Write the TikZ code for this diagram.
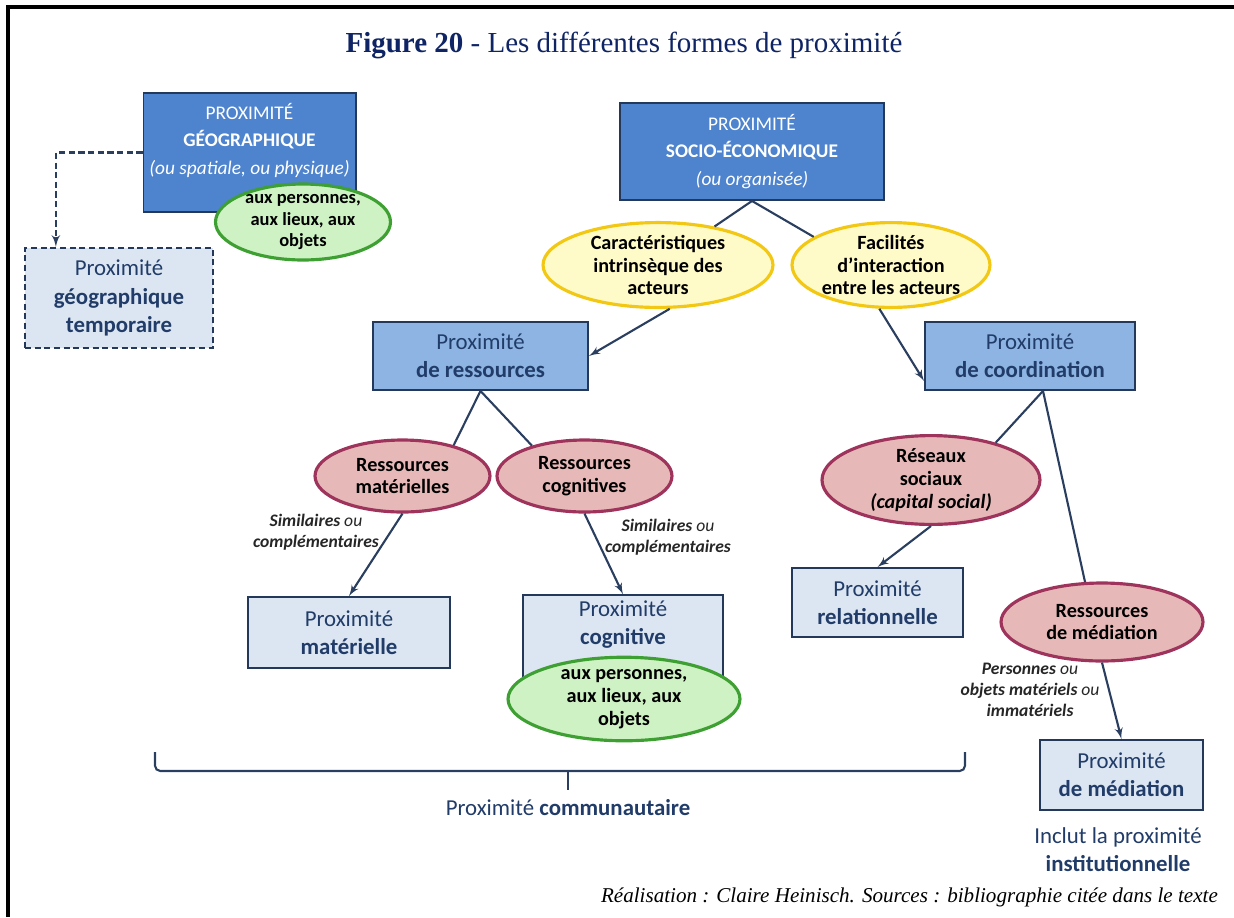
\documentclass[tikz,border=0pt]{standalone}
\usepackage{fontspec}
\setmainfont{Carlito}
\newfontfamily\ttlfont{Liberation Serif}
\usetikzlibrary{shapes,arrows}

\definecolor{darkblue}{RGB}{78,131,206}
\definecolor{midblue}{RGB}{141,180,226}
\definecolor{paleblue}{RGB}{220,230,242}
\definecolor{boxline}{RGB}{36,56,90}
\definecolor{boxtext}{RGB}{33,60,104}
\definecolor{linkcol}{RGB}{42,62,95}
\definecolor{rosefill}{RGB}{230,185,184}
\definecolor{roseline}{RGB}{158,52,92}
\definecolor{goldfill}{RGB}{255,251,200}
\definecolor{goldline}{RGB}{242,200,20}
\definecolor{leaffill}{RGB}{206,242,196}
\definecolor{leafline}{RGB}{62,160,50}
\definecolor{titlecol}{RGB}{14,36,100}

\tikzstyle{topbox} = [draw=boxline, line width=1.1pt, fill=darkblue, text=white, align=center, font=\fontsize{11}{15.5}\selectfont]
\tikzstyle{midbox} = [draw=boxline, line width=1.1pt, fill=midblue, text=boxtext, align=center, font=\fontsize{13}{16}\selectfont]
\tikzstyle{leafbox} = [midbox, fill=paleblue]
\tikzstyle{dashbox} = [leafbox, line width=1.3pt, dash pattern=on 3.5pt off 2pt]
\tikzstyle{oval} = [ellipse, line width=1.8pt, inner sep=0pt, align=center, text=black, font=\bfseries\fontsize{11.5}{13}\selectfont]
\tikzstyle{yoval} = [oval, draw=goldline, fill=goldfill]
\tikzstyle{poval} = [oval, draw=roseline, fill=rosefill]
\tikzstyle{goval} = [oval, draw=leafline, fill=leaffill]
\tikzstyle{note} = [align=center, text=black!85, font=\itshape\fontsize{10}{12}\selectfont]
\tikzset{
  line/.style ={draw=linkcol, line width=1.2pt, -latex'},
  plain/.style={draw=linkcol, line width=1.2pt}
}

\begin{document}
\begin{tikzpicture}[x=0.02cm, y=-0.02cm]
  \useasboundingbox (0,0) rectangle (1234,917);
  \draw[line width=2pt] (8,917) -- (8,7) -- (1234,7);

  \node[text=titlecol, font=\ttlfont\fontsize{16.5}{20}\selectfont] (title) at (624,45) {\textbf{Figure 20} - Les différentes formes de proximité};

  % geographic side
  \node[topbox, minimum width=4.18cm, minimum height=2.38cm] (geo) at (249.5,152.5) {PROXIMITÉ\\\textbf{GÉOGRAPHIQUE}\\\textit{(ou spatiale, ou physique)}\\\mbox{}};
  \node[goval, inner sep=-3pt, minimum width=3.5cm, minimum height=1.52cm, font=\bfseries\fontsize{10.5}{12.5}\selectfont] (geoobj) at (303,222) {aux personnes,\\aux lieux, aux\\objets};
  \node[dashbox, minimum width=3.76cm, minimum height=2cm] (tempo) at (119,298) {Proximité\\\textbf{géographique}\\\textbf{temporaire}};

  % socio-economic side
  \node[topbox, minimum width=5.28cm, minimum height=1.94cm] (socio) at (752,151.5) {PROXIMITÉ\\\textbf{SOCIO-ÉCONOMIQUE}\\\textit{(ou organisée)}};
  \node[yoval, minimum width=4.6cm, minimum height=1.48cm] (intr) at (658,265) {Caractéristiques\\intrinsèque des\\acteurs};
  \node[yoval, minimum width=3.96cm, minimum height=1.48cm] (inter) at (891,265) {Facilités\\d’interaction\\entre les acteurs};

  \node[midbox, minimum width=4.3cm, minimum height=1.36cm] (ress) at (480.5,356) {Proximité\\\textbf{de ressources}};
  \node[midbox, minimum width=4.2cm, minimum height=1.36cm] (coord) at (1030,356) {Proximité\\\textbf{de coordination}};

  \node[poval, minimum width=3.5cm, minimum height=1.44cm] (rmat) at (402.5,476) {Ressources\\matérielles};
  \node[poval, minimum width=3.5cm, minimum height=1.44cm] (rcog) at (584.5,476) {Ressources\\cognitives};
  \node[poval, minimum width=4.36cm, minimum height=1.72cm] (reseau) at (931,480) {Réseaux\\sociaux\\\textit{(capital social)}};
  \node[poval, minimum width=4.04cm, minimum height=1.56cm] (rmed) at (1102,622) {Ressources\\de médiation};

  \node[note] (simmat) at (316,532) {\textbf{Similaires} ou\\\textbf{complémentaires}};
  \node[note] (simcog) at (668,537) {\textbf{Similaires} ou\\\textbf{complémentaires}};
  \node[note] (pers) at (1030,690) {\textbf{Personnes} ou\\\textbf{objets matériels} ou\\\textbf{immatériels}};

  \node[leafbox, minimum width=4.04cm, minimum height=1.42cm] (mat) at (349,632.5) {Proximité\\\textbf{matérielle}};
  \node[leafbox, minimum width=4cm, minimum height=1.6cm] (cog) at (623,637) {Proximité\\\textbf{cognitive}\\\mbox{}};
  \node[goval, minimum width=4.64cm, minimum height=1.56cm] (cogobj) at (624,699) {aux personnes,\\aux lieux, aux\\objets};
  \node[leafbox, minimum width=3.42cm, minimum height=1.38cm] (rel) at (877.5,602.5) {Proximité\\\textbf{relationnelle}};
  \node[leafbox, minimum width=3.26cm, minimum height=1.4cm] (med) at (1121.5,775) {Proximité\\\textbf{de médiation}};

  \node[text=boxtext, align=center, font=\fontsize{13}{16}\selectfont] (instit) at (1118,850) {Inclut la proximité\\\textbf{institutionnelle}};
  \node[text=boxtext, font=\fontsize{13}{16}\selectfont] (comm) at (568,808) {Proximité \textbf{communautaire}};

  \node[anchor=east, text=black, font=\ttlfont\itshape\fontsize{12}{14}\selectfont] (source) at (1224,897) {Réalisation : Claire Heinisch. Sources : bibliographie citée dans le texte};

  % brace over the community proximities
  \coordinate (braceL) at (155,752);
  \coordinate (braceR) at (965,752);
  \draw[plain, rounded corners=3pt] (braceL) |- (comm.north |- 0,771) -| (braceR);
  \draw[plain] (comm.north |- 0,771) -- ([yshift=2pt]comm.north);

  \begin{scope}[every path/.style=plain]
    \path (socio.south) -- (intr);
    \path (socio.south) -- (inter.160);
    \path (ress.south) -- (rmat.31);
    \path (ress.south) -- (rcog.150);
    \path ([xshift=0.26cm]coord.south) -- (reseau.30);
    \path ([xshift=0.26cm]coord.south) -- (rmed.113);
  \end{scope}

  \begin{scope}[every path/.style=line]
    \path[line width=1.3pt, dash pattern=on 3.5pt off 2pt] (geo.west) -| ([xshift=0.64cm]tempo.north west);
    \path (intr.285) -- (ress.east);
    \path (inter.255) -- ([yshift=0.2cm]coord.south west);
    \path (rmat.south) -- (mat.north);
    \path (rcog.south) -- (cog.north);
    \path (reseau.south) -- (rel.north);
    \path (rmed.south) -- (med.north);
  \end{scope}

\end{tikzpicture}
\end{document}
